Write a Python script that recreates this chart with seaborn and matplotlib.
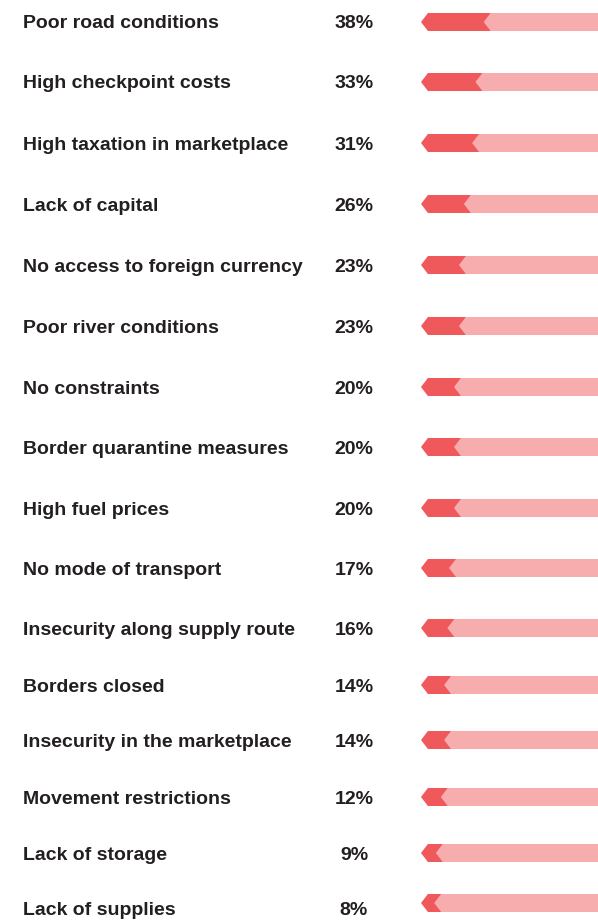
import matplotlib.pyplot as plt
import seaborn as sns
from matplotlib import font_manager

# data
constraints = [
    "Poor road conditions", "High checkpoint costs", "High taxation in marketplace",
    "Lack of capital", "No access to foreign currency", "Poor river conditions",
    "No constraints", "Border quarantine measures", "High fuel prices",
    "No mode of transport", "Insecurity along supply route", "Borders closed",
    "Insecurity in the marketplace", "Movement restrictions", "Lack of storage",
    "Lack of supplies",
]
shares = [38, 33, 31, 26, 23, 23, 20, 20, 20, 17, 16, 14, 14, 12, 9, 8]

# layout: row centres in pixels from the top
row_y = [22, 82, 143, 204, 265, 326, 387, 447, 508, 568, 628, 685, 740, 797, 853, 903]

RED = "#F0595C"
PINK = "#F7ADAD"
W, H = 598, 922

sns.set_theme(style="white")
names = [f.name for f in font_manager.fontManager.ttflist]
fam = "Liberation Sans Narrow" if "Liberation Sans Narrow" in names else "Liberation Sans"
plt.rcParams["font.family"] = [fam, "DejaVu Sans"]

fig = plt.figure(figsize=(W / 100, H / 100), dpi=100)

# text axes in pixel coordinates
tax = fig.add_axes([0, 0, 1, 1])
tax.set_xlim(0, W)
tax.set_ylim(H, 0)
tax.axis("off")
for i, (name, val, y) in enumerate(zip(constraints, shares, row_y)):
    ty = y + 2 + (5 if i == len(shares) - 1 else 0)
    tax.text(23, ty, name, fontsize=14, fontweight="bold", color="#231F20",
             ha="left", va="center")
    tax.text(354, ty, f"{val}%", fontsize=14, fontweight="bold", color="#231F20",
             ha="center", va="center")

# bar axes in % (about 1.65 px per point), pink track runs to the edge
x0, x1 = 421, 598
xmax = (x1 - x0) / 1.65
bax = fig.add_axes([x0 / W, 0, (x1 - x0) / W, 1])
bax.set_xlim(0, xmax)
bax.set_ylim(H, 0)
bax.axis("off")

d = 4.2   # chevron depth in %
h = 9     # half height in pixels
for val, y in zip(shares, row_y):
    top, bot = y - h, y + h
    bax.fill([0, d, val + d, val + d, d], [y, top, top, bot, bot],
             color=RED, lw=0, clip_on=False)
    bax.fill([val, val + d, xmax, xmax, val + d], [y, top, top, bot, bot],
             color=PINK, lw=0, clip_on=False)

fig.savefig("out.png", dpi=100)
